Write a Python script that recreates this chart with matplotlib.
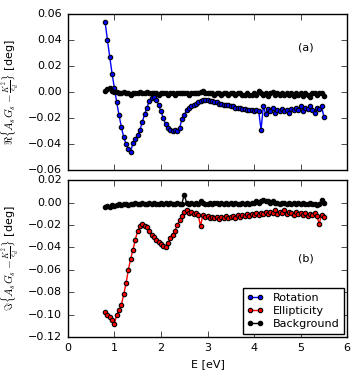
import numpy as np
import matplotlib
matplotlib.use("Agg")
import matplotlib.pyplot as plt

plt.style.use("classic")
plt.rcParams["font.size"] = 8
plt.rcParams["figure.facecolor"] = "white"
plt.rcParams["savefig.facecolor"] = "white"

energy = [0.80, 0.85, 0.90, 0.95, 1.00, 1.05, 1.10, 1.15, 1.20, 1.25,
          1.30, 1.35, 1.40, 1.45, 1.50, 1.55, 1.60, 1.65, 1.70, 1.75,
          1.80, 1.85, 1.90, 1.95, 2.00, 2.05, 2.10, 2.15, 2.20, 2.25,
          2.30, 2.35, 2.40, 2.45, 2.50, 2.55, 2.60, 2.65, 2.70, 2.75,
          2.80, 2.85, 2.90, 2.95, 3.00, 3.05, 3.10, 3.15, 3.20, 3.25,
          3.30, 3.35, 3.40, 3.45, 3.50, 3.55, 3.60, 3.65, 3.70, 3.75,
          3.80, 3.85, 3.90, 3.95, 4.00, 4.05, 4.10, 4.15, 4.20, 4.25,
          4.30, 4.35, 4.40, 4.45, 4.50, 4.55, 4.60, 4.65, 4.70, 4.75,
          4.80, 4.85, 4.90, 4.95, 5.00, 5.05, 5.10, 5.15, 5.20, 5.25,
          5.30, 5.35, 5.40, 5.45, 5.50]

rotation = [0.054, 0.040, 0.027, 0.014, 0.003, -0.008, -0.018, -0.027, -0.035, -0.040,
            -0.044, -0.046, -0.039, -0.036, -0.033, -0.029, -0.023, -0.017, -0.012, -0.007,
            -0.005, -0.004, -0.006, -0.010, -0.015, -0.020, -0.025, -0.028, -0.029, -0.030,
            -0.029, -0.030, -0.028, -0.021, -0.018, -0.014, -0.012, -0.011, -0.010, -0.009,
            -0.008, -0.007, -0.006, -0.006, -0.006, -0.007, -0.007, -0.008, -0.008, -0.009,
            -0.009, -0.010, -0.010, -0.010, -0.011, -0.011, -0.012, -0.012, -0.012, -0.013,
            -0.013, -0.014, -0.014, -0.014, -0.015, -0.014, -0.015, -0.029, -0.011, -0.017,
            -0.013, -0.015, -0.012, -0.016, -0.014, -0.015, -0.013, -0.015, -0.014, -0.016,
            -0.013, -0.014, -0.012, -0.014, -0.011, -0.015, -0.012, -0.013, -0.011, -0.014,
            -0.016, -0.012, -0.013, -0.011, -0.019]

background_re = [0.001, 0.002, 0.003, 0.001, 0.000, 0.000, -0.001, -0.001, 0.000, -0.001,
                 -0.001, -0.002, -0.001, -0.001, -0.001, 0.000, -0.001, -0.001, 0.000, -0.001,
                 -0.001, -0.001, -0.001, -0.002, -0.001, -0.001, -0.001, -0.002, -0.001, -0.001,
                 -0.002, -0.001, -0.001, -0.001, -0.001, -0.001, -0.002, -0.001, -0.001, -0.001,
                 -0.001, 0.000, 0.001, -0.001, -0.001, -0.001, -0.001, -0.002, -0.001, -0.001,
                 -0.002, -0.001, -0.001, -0.002, -0.001, -0.001, -0.002, -0.001, -0.001, -0.002,
                 -0.002, -0.001, -0.002, -0.002, -0.001, -0.002, 0.001, -0.001, -0.002, -0.001,
                 -0.003, -0.001, 0.000, -0.002, -0.001, -0.002, -0.001, -0.002, -0.001, -0.002,
                 -0.001, -0.003, -0.001, -0.002, -0.001, -0.003, -0.001, -0.002, -0.004, -0.001,
                 -0.001, -0.002, -0.001, -0.001, -0.003]

ellipticity = [-0.098, -0.100, -0.102, -0.105, -0.108, -0.100, -0.096, -0.091, -0.082, -0.072,
               -0.060, -0.050, -0.042, -0.033, -0.025, -0.021, -0.019, -0.021, -0.022, -0.025,
               -0.029, -0.031, -0.033, -0.035, -0.037, -0.039, -0.040, -0.036, -0.032, -0.029,
               -0.025, -0.020, -0.016, -0.012, -0.008, -0.007, -0.009, -0.008, -0.010, -0.009,
               -0.011, -0.021, -0.011, -0.013, -0.012, -0.014, -0.013, -0.014, -0.013, -0.015,
               -0.013, -0.014, -0.012, -0.014, -0.013, -0.012, -0.014, -0.011, -0.013, -0.011,
               -0.012, -0.010, -0.012, -0.010, -0.011, -0.009, -0.011, -0.009, -0.010, -0.008,
               -0.010, -0.008, -0.009, -0.007, -0.010, -0.008, -0.009, -0.007, -0.010, -0.008,
               -0.009, -0.011, -0.008, -0.010, -0.009, -0.011, -0.009, -0.012, -0.010, -0.011,
               -0.009, -0.012, -0.019, -0.011, -0.013]

background_im = [-0.004, -0.003, -0.004, -0.002, -0.003, -0.002, -0.001, -0.002, -0.001, -0.001,
                 -0.002, -0.001, -0.001, 0.000, -0.001, -0.001, 0.000, -0.001, -0.001, 0.000,
                 -0.001, 0.000, -0.001, -0.001, 0.000, -0.001, 0.000, -0.001, 0.000, -0.001,
                 -0.001, 0.000, -0.001, -0.001, 0.007, 0.000, -0.001, 0.000, -0.001, 0.000,
                 -0.001, 0.001, 0.000, -0.001, -0.001, 0.000, -0.001, 0.000, 0.000, -0.001,
                 0.000, -0.001, 0.000, -0.001, 0.000, -0.001, 0.000, -0.001, -0.001, 0.000,
                 -0.001, 0.000, -0.001, 0.000, 0.000, 0.001, 0.000, 0.001, 0.002, 0.001,
                 0.001, 0.000, 0.001, 0.000, 0.000, -0.001, 0.000, 0.000, -0.001, 0.000,
                 -0.001, 0.000, -0.001, 0.000, -0.001, 0.000, -0.001, -0.001, 0.000, -0.001,
                 -0.001, -0.002, -0.001, 0.002, 0.000]

style = dict(marker="o", markersize=3.2, markeredgecolor="k", markeredgewidth=0.8, lw=1.0)

fig = plt.figure(figsize=(3.59, 3.80), dpi=100)
ax1 = fig.add_axes([0.189, 0.553, 0.778, 0.410])
ax2 = fig.add_axes([0.189, 0.113, 0.778, 0.413])

l_rot, = ax1.plot(energy, rotation, color="b", label="Rotation", **style)
l_bg, = ax1.plot(energy, background_re, color="k", markerfacecolor="k",
                 label="Background", **style)
ax1.set_xlim(0, 6)
ax1.set_ylim(-0.06, 0.06)
ax1.set_yticks(np.arange(-0.06, 0.061, 0.02))
ax1.set_xticklabels([])
ax1.set_ylabel(r"$\Re\{A_sG_s - \frac{K^2}{\epsilon_d}\}$ [deg]")
ax1.text(4.95, 0.032, "(a)", fontsize=8)

l_ell, = ax2.plot(energy, ellipticity, color="r", label="Ellipticity", **style)
ax2.plot(energy, background_im, color="k", markerfacecolor="k", **style)
ax2.set_xlim(0, 6)
ax2.set_ylim(-0.12, 0.02)
ax2.set_yticks(np.arange(-0.12, 0.021, 0.02))
ax2.set_xlabel("E [eV]")
ax2.set_ylabel(r"$\Im\{A_sG_s - \frac{K^2}{\epsilon_d}\}$ [deg]")
ax2.text(4.95, -0.053, "(b)", fontsize=8)
ax2.legend([l_rot, l_ell, l_bg], ["Rotation", "Ellipticity", "Background"],
           loc="lower right", fontsize=8, numpoints=2, borderaxespad=0.3,
           handlelength=1.5, handletextpad=0.8, labelspacing=0.3, borderpad=0.4)

fig.savefig("out.png", dpi=100)
